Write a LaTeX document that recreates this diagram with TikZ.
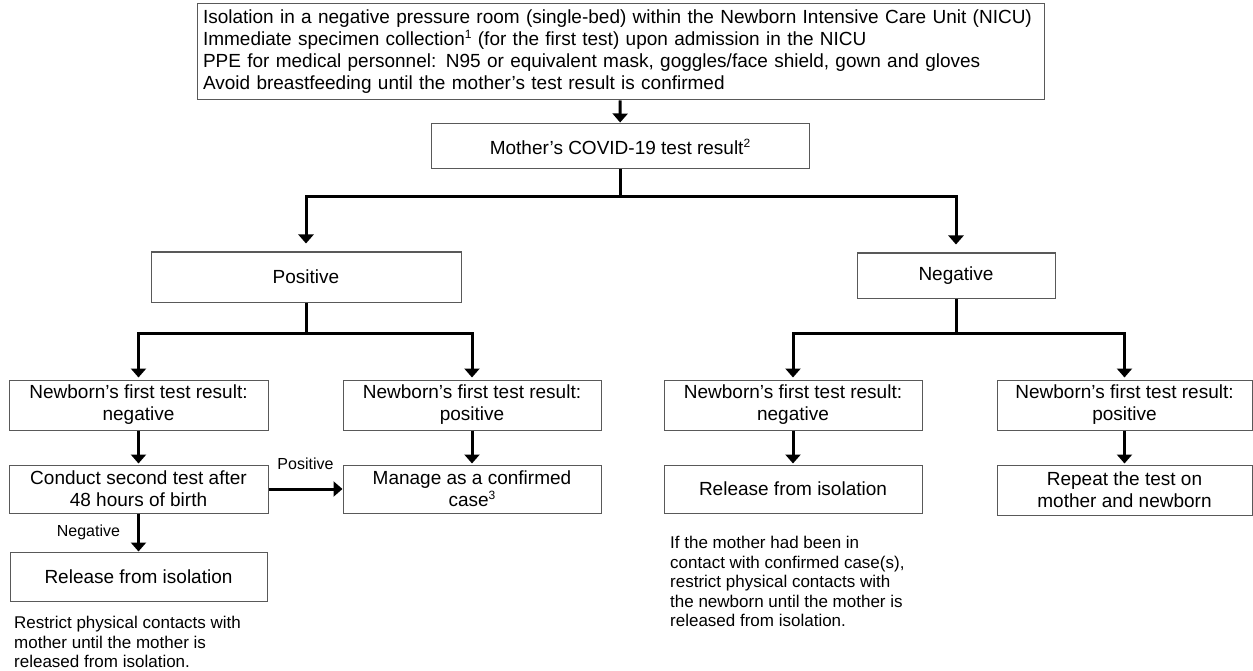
\documentclass[tikz,border=0pt]{standalone}
\usepackage{fontspec}
\setmainfont{Liberation Sans}
\usepackage{tikz}
\usetikzlibrary{arrows.meta}
\usetikzlibrary{positioning}
\newcommand{\supnum}[1]{\raisebox{7pt}{\fontsize{12}{12}\selectfont #1}}
\tikzstyle{box}=[rectangle,draw=black!65,line width=1pt,align=center,inner sep=0pt,font=\fontsize{19}{22}\selectfont]
\tikzstyle{edge} = [draw,line width=3pt,-{Triangle[width=15pt,length=9pt]}]
\tikzstyle{undirectededge} = [draw,line width=3pt]
\tikzstyle{weight} = [font=\fontsize{16}{19}\selectfont,inner sep=0pt]
\tikzstyle{note} = [align=left,anchor=north west,inner sep=0pt,font=\fontsize{17}{19.5}\selectfont]

\begin{document}
\begin{tikzpicture}[x=1pt,y=-1pt]

 \useasboundingbox (0,0) rectangle (1253,671);

 %Top box
 \node[box, align=left, text width=835pt, minimum height=96pt, inner xsep=6pt] (top) at (620.5,52)
   {Isolation in a negative pressure room (single-bed) within the Newborn Intensive Care Unit (NICU)\\
    Immediate specimen collection\supnum{1} (for the first test) upon admission in the NICU\\
    PPE for medical personnel: N95 or equivalent mask, goggles/face shield, gown and gloves\\
    Avoid breastfeeding until the mother’s test result is confirmed};

 %Mother
 \node[box, minimum width=378pt, minimum height=45pt] (mother) at (620,146.5) {Mother’s COVID-19 test result\supnum{2}};

 %Level 1
 \foreach \x/\y/\w/\h/\name/\label in {306/277/310/50/pos/Positive, 956/275.5/198/45/neg/Negative}
   \node[box, minimum width=\w pt, minimum height=\h pt] (\name) at (\x,\y) {\label};

 %Level 2
 \foreach \x/\w/\name/\label in {138.5/259/nbnegL/{Newborn’s first test result:\\negative},
                                 472/258/nbposL/{Newborn’s first test result:\\positive},
                                 793/258/nbnegR/{Newborn’s first test result:\\negative},
                                 1124.5/255/nbposR/{Newborn’s first test result:\\positive}}
   \node[box, minimum width=\w pt, minimum height=50pt] (\name) at (\x,405) {\label};

 %Level 3
 \foreach \x/\y/\w/\h/\name/\label in {138.5/489/259/48/conduct/{Conduct second test after\\48 hours of birth},
                                       472/489/258/48/manage/{Manage as a confirmed\\case\supnum{3}},
                                       793/489/258/48/relR/{Release from isolation},
                                       1124.5/490/255/50/repeat/{Repeat the test on\\mother and newborn},
                                       138.5/576.5/257/49/relL/{Release from isolation}}
   \node[box, minimum width=\w pt, minimum height=\h pt] (\name) at (\x,\y) {\label};

 %Notes
 \node[note] (noteL) at (14,616) {Restrict physical contacts with\\mother until the mother is\\released from isolation.};
 \node[note] (noteR) at (670,536) {If the mother had been in\\contact with confirmed case(s),\\restrict physical contacts with\\the newborn until the mother is\\released from isolation.};

 %Edges
 \path[edge, shorten >=1pt] (top) -- (mother);

 \path[undirectededge] (mother.south) -- ++(0,27) coordinate (mj);
 \foreach \dest in {pos, neg}
   \path[edge, shorten >=8pt] (mj) -| (\dest.north);

 \path[undirectededge] (pos.south) -- ++(0,31) coordinate (pj);
 \foreach \dest in {nbnegL, nbposL}
   \path[edge, shorten >=2pt] (pj) -| (\dest.north);

 \path[undirectededge] (neg.south) -- ++(0,35) coordinate (nj);
 \foreach \dest in {nbnegR, nbposR}
   \path[edge, shorten >=2pt] (nj) -| (\dest.north);

 \foreach \source/ \dest in {nbnegL/conduct, nbposL/manage, nbnegR/relR, nbposR/repeat}
   \path[edge, shorten >=1pt] (\source) -- (\dest);

 \path[edge] (conduct) -- node[weight, above=18pt] (lpos) {Positive} (manage);
 \path[edge] (conduct) -- node[weight, left=17pt] (lneg) {Negative} (relL);

\end{tikzpicture}
\end{document}
